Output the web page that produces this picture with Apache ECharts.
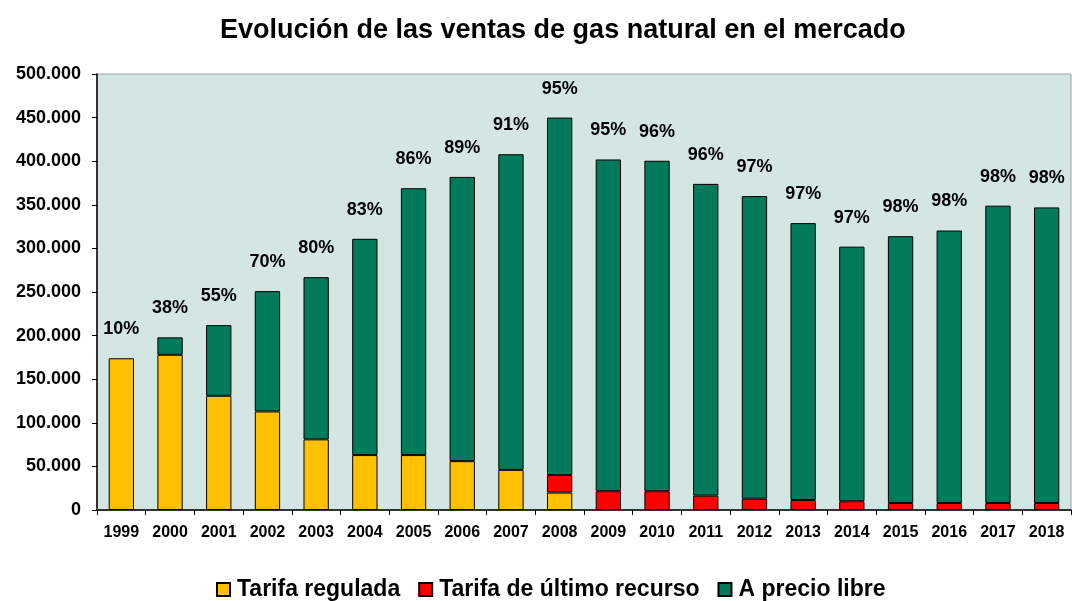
<!DOCTYPE html>
<html>
<head>
<meta charset="utf-8">
<script src="https://cdn.jsdelivr.net/npm/echarts@6/dist/echarts.min.js"></script>
<style>
html,body{margin:0;padding:0;background:#fff;}
#chart{width:1072px;height:601px;}
</style>
</head>
<body>
<div id="chart"></div>
<script>
var years = ['1999','2000','2001','2002','2003','2004','2005','2006','2007','2008','2009','2010','2011','2012','2013','2014','2015','2016','2017','2018'];
var tarifaRegulada = [174000,178000,131000,113000,81000,63000,63000,56000,46000,20000,0,0,0,0,0,0,0,0,0,0];
var tarifaUltimoRecurso = [0,0,0,0,0,0,0,0,0,20000,21500,21500,16500,13000,11500,10000,8000,8000,8000,8000];
var precioLibre = [0,20000,81000,138000,186000,248000,306000,326000,362000,410000,380500,379000,357500,347000,317500,292000,306000,312500,341000,339000];
var pctLibre = ['10%','38%','55%','70%','80%','83%','86%','89%','91%','95%','95%','96%','96%','97%','97%','97%','98%','98%','98%','98%'];
var yTicks = [0,50000,100000,150000,200000,250000,300000,350000,400000,450000,500000];

var FONT = '"Liberation Sans", Arial, sans-serif';
function fmt(v){ return String(v).replace(/\B(?=(\d{3})+(?!\d))/g,'.'); }
function nz(arr){ return arr.map(function(v){ return v === 0 ? null : v; }); }

var chart = echarts.init(document.getElementById('chart'), null, {renderer:'canvas'});
var barStyle = function(c){ return {color:c, borderColor:'#000', borderWidth:1}; };
var option = {
  animation:false,
  backgroundColor:'#fff',
  title:{
    text:'Evolución de las ventas de gas natural en el mercado',
    left:215, top:12,
    textStyle:{fontFamily:FONT, fontSize:27, fontWeight:'bold', color:'#000'}
  },
  legend:{
    top:573, left:211,
    itemWidth:13, itemHeight:13, itemGap:18,
    icon:'rect',
    textStyle:{fontFamily:FONT, fontSize:23, fontWeight:'bold', color:'#000', padding:[0,0,0,2]},
    data:['Tarifa regulada','Tarifa de último recurso','A precio libre']
  },
  grid:{
    left:97, right:1, top:74, bottom:91,
    show:true, backgroundColor:'#D3E6E3', borderColor:'#A0A0A0', borderWidth:1
  },
  xAxis:{
    type:'category', data:years,
    axisLine:{lineStyle:{color:'#000', width:1.5}},
    axisTick:{show:true, alignWithLabel:false, interval:0, length:5, lineStyle:{color:'#000'}},
    axisLabel:{interval:0, hideOverlap:false, fontFamily:FONT, fontSize:16, fontWeight:'bold', color:'#000', margin:15}
  },
  yAxis:{
    type:'value', min:0, max:500000, interval:50000,
    axisLine:{show:true, lineStyle:{color:'#000', width:1.5}},
    axisTick:{show:true, length:5, lineStyle:{color:'#000'}},
    splitLine:{show:false},
    axisLabel:{fontFamily:FONT, fontSize:18, fontWeight:'bold', color:'#000', margin:16,
      formatter:function(v){ return yTicks.indexOf(v)>=0 ? fmt(v) : ''; }}
  },
  series:[
    {name:'Tarifa regulada', type:'bar', stack:'t', barWidth:'52%', data:nz(tarifaRegulada), itemStyle:barStyle('#FFC000')},
    {name:'Tarifa de último recurso', type:'bar', stack:'t', data:nz(tarifaUltimoRecurso), itemStyle:barStyle('#FF0000')},
    {name:'A precio libre', type:'bar', stack:'t', data:nz(precioLibre), itemStyle:barStyle('#007A5B')},
    {name:'labels', type:'bar', stack:'t', data:years.map(function(){return 0;}),
      itemStyle:{color:'transparent', borderWidth:0},
      label:{show:true, position:'top', distance:20, fontFamily:FONT, fontSize:18, fontWeight:'bold', color:'#000',
        formatter:function(p){ return pctLibre[p.dataIndex]; }},
      tooltip:{show:false}}
  ]
};
chart.setOption(option);
</script>
</body>
</html>
